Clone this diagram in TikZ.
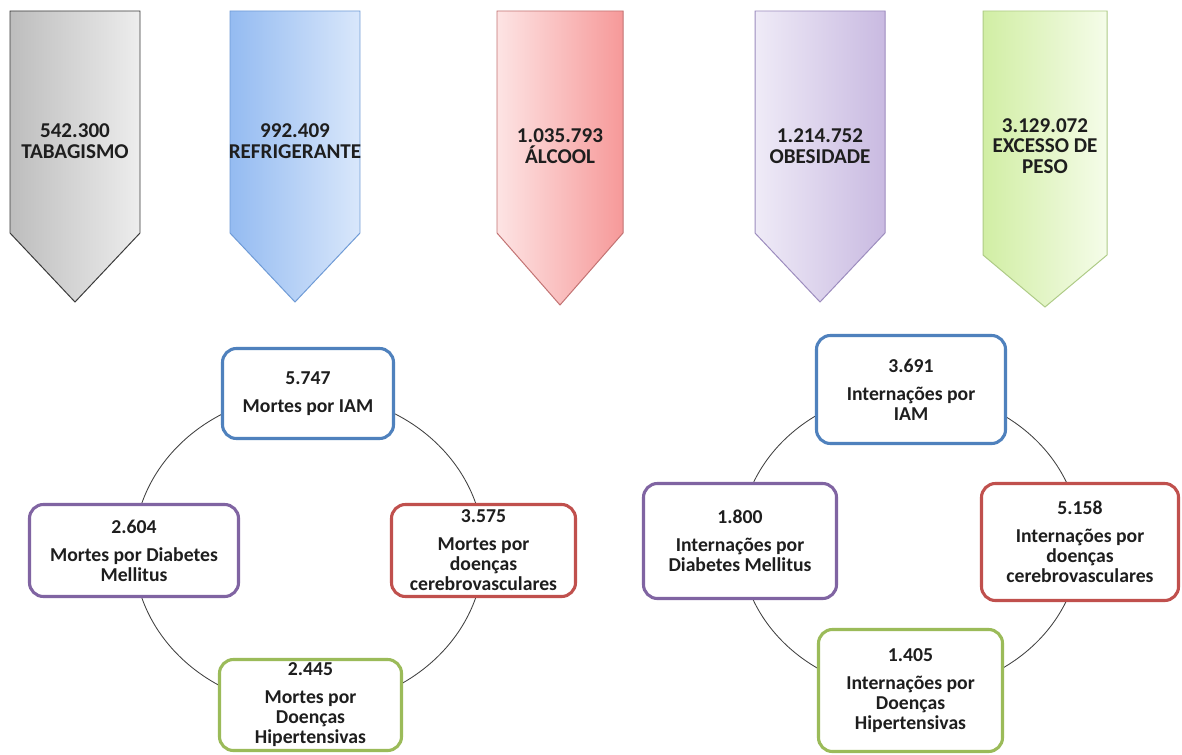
\documentclass[tikz,border=0pt]{standalone}
\usepackage{fontspec}
\setmainfont{Carlito}
\usetikzlibrary{calc, backgrounds}

\definecolor{tabL}{HTML}{BDBDBD}
\definecolor{tabR}{HTML}{EDEDED}
\definecolor{tabLine}{HTML}{3A3A3A}
\definecolor{refL}{HTML}{94BBF1}
\definecolor{refR}{HTML}{D9E7FB}
\definecolor{refLine}{HTML}{6F9BD6}
\definecolor{alcL}{HTML}{FDE4E4}
\definecolor{alcR}{HTML}{F69999}
\definecolor{alcLine}{HTML}{C27272}
\definecolor{obeL}{HTML}{EFEBF7}
\definecolor{obeR}{HTML}{C9BAE1}
\definecolor{obeLine}{HTML}{9C8CBE}
\definecolor{pesL}{HTML}{D1EEA4}
\definecolor{pesR}{HTML}{F5FCE9}
\definecolor{pesLine}{HTML}{AECB86}
\definecolor{boxBlue}{HTML}{4F81BD}
\definecolor{boxPurple}{HTML}{8064A2}
\definecolor{boxRed}{HTML}{C0504D}
\definecolor{boxGreen}{HTML}{9BBB59}
\definecolor{txt}{HTML}{1E1E1E}

\begin{document}
\begin{tikzpicture}[
    x=0.025cm, y=-0.025cm,
    banner/.style={line width=0.7pt, line join=miter},
    bannertext/.style={font=\fontsize{15}{14.6}\selectfont\bfseries, align=center, text=txt},
    box/.style={draw, fill=white, rounded corners=0.35cm, line width=2.2pt, inner sep=0pt,
        font=\fontsize{14}{14.2}\selectfont\bfseries, align=center, text=txt},
    ring/.style={draw=black!75, line width=0.6pt},
]
\useasboundingbox (0,0) rectangle (1182,755);

% banners
\draw[banner, draw=tabLine, left color=tabL, right color=tabR] (10,11) -- (140,11) -- (140,233) -- (75,302) -- (10,233) -- cycle;
\draw[banner, draw=refLine, left color=refL, right color=refR] (230,11) -- (360,11) -- (360,233) -- (295,302) -- (230,233) -- cycle;
\draw[banner, draw=alcLine, left color=alcL, right color=alcR] (497,11) -- (623,11) -- (623,233) -- (560,305) -- (497,233) -- cycle;
\draw[banner, draw=obeLine, left color=obeL, right color=obeR] (755,11) -- (885,11) -- (885,233) -- (820,302) -- (755,233) -- cycle;
\draw[banner, draw=pesLine, left color=pesL, right color=pesR] (983,11) -- (1107,11) -- (1107,255) -- (1045,307) -- (983,255) -- cycle;

\node[bannertext] (tab) at (75,141) {542.300\\TABAGISMO};
\node[bannertext] (refri) at (295,141) {992.409\\REFRIGERANTE};
\node[bannertext] (alcool) at (560,146) {1.035.793\\ÁLCOOL};
\node[bannertext] (obes) at (820,146) {1.214.752\\OBESIDADE};
\node[bannertext] (peso) at (1045,146) {3.129.072\\EXCESSO DE\\PESO};

% mortes
\node[box, draw=boxBlue, minimum width=4.275cm, minimum height=2.25cm] (mIam) at (308,393.5) {5.747\\[5.7pt]Mortes por IAM};
\node[box, draw=boxPurple, minimum width=5.225cm, minimum height=2.3cm] (mDiab) at (134,550.5) {2.604\\[5.7pt]Mortes por Diabetes\\Mellitus};
\node[box, draw=boxRed, minimum width=4.6cm, minimum height=2.3cm] (mCere) at (483.5,550.5) {3.575\\[5.7pt]Mortes por\\doenças\\cerebrovasculares};
\node[box, draw=boxGreen, minimum width=4.55cm, minimum height=2.275cm] (mHip) at (310.5,705) {2.445\\[5.7pt]Mortes por\\Doenças\\Hipertensivas};

% internacoes
\node[box, draw=boxBlue, minimum width=4.725cm, minimum height=2.7cm] (iIam) at (911,389.5) {3.691\\[5.7pt]Internações por\\IAM};
\node[box, draw=boxPurple, minimum width=4.825cm, minimum height=2.875cm] (iDiab) at (740,541) {1.800\\[5.7pt]Internações por\\Diabetes Mellitus};
\node[box, draw=boxRed, minimum width=4.925cm, minimum height=2.925cm] (iCere) at (1080,542) {5.158\\[5.7pt]Internações por\\doenças\\cerebrovasculares};
\node[box, draw=boxGreen, minimum width=4.6cm, minimum height=3.05cm] (iHip) at (910.5,690.5) {1.405\\[5.7pt]Internações por\\Doenças\\Hipertensivas};

\begin{scope}[on background layer]
\fill[white] (0,0) rectangle (1182,755);
\draw[ring] ($(mDiab)!0.5!(mCere)$) ellipse [x radius=175, y radius=157];
\draw[ring] ($(iDiab)!0.5!(iCere)$) ellipse [x radius=170, y radius=151];
\end{scope}

\end{tikzpicture}
\end{document}
